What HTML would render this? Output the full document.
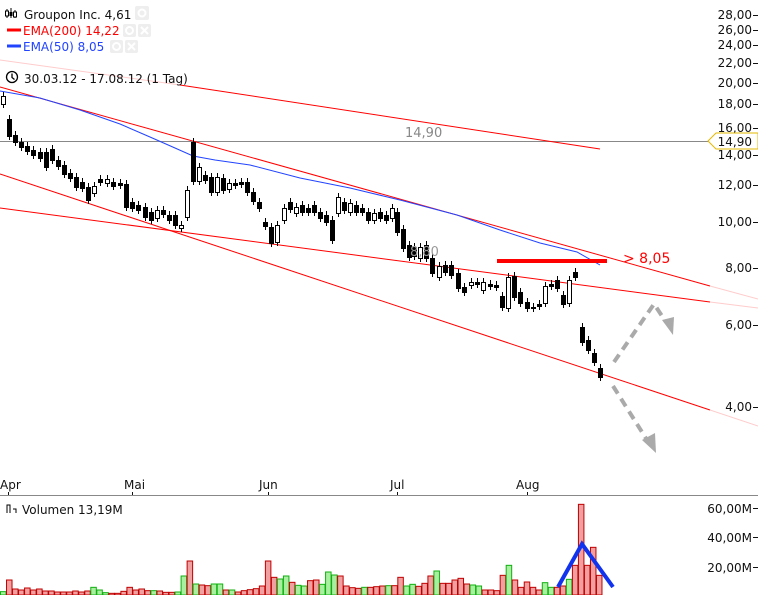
<!DOCTYPE html>
<html><head><meta charset="utf-8"><style>
html,body{margin:0;padding:0;background:#fff;}
svg{display:block;font-family:"DejaVu Sans","Liberation Sans",sans-serif;}
</style></head><body>
<svg id="s" width="758" height="595" viewBox="0 0 758 595" xmlns="http://www.w3.org/2000/svg">
<rect width="758" height="595" fill="#fff"/>
<!-- horizontal 14,90 -->
<line x1="0" y1="141.5" x2="712" y2="141.5" stroke="#888" stroke-width="1"/>
<text x="405" y="137" font-size="13" fill="#888">14,90</text>
<!-- EMA200 -->
<line x1="0" y1="60" x2="180" y2="85" stroke="#fcc" stroke-width="1"/>
<line x1="180" y1="85" x2="600" y2="149" stroke="#f00" stroke-width="1"/>
<!-- trend lines -->
<line x1="0" y1="87" x2="710" y2="286" stroke="#f00" stroke-width="1"/>
<line x1="710" y1="286" x2="758" y2="299" stroke="#fcc" stroke-width="1"/>
<line x1="0" y1="208" x2="710" y2="302" stroke="#f00" stroke-width="1"/>
<line x1="710" y1="302" x2="758" y2="308" stroke="#fcc" stroke-width="1"/>
<line x1="0" y1="174" x2="710" y2="410" stroke="#f00" stroke-width="1"/>
<line x1="710" y1="410" x2="758" y2="426" stroke="#fcc" stroke-width="1"/>
<!-- EMA50 -->
<polyline points="0,91 40,98 80,110 120,124 150,137 175,148 193,156 215,160 250,165 300,178 350,188 400,200 457,215 500,230 540,243 577,252 600,265" fill="none" stroke="#2244ff" stroke-width="1"/>
<g id="candles"></g>
<!-- red resistance -->
<line x1="497" y1="261" x2="607" y2="261" stroke="#f00" stroke-width="4"/>
<text x="623" y="263" font-size="14" fill="#f00">&gt; 8,05</text>
<text x="410" y="256" font-size="13" fill="#999">8,80</text>
<!-- arrows -->
<g stroke="#aaa" stroke-width="4" fill="none" stroke-dasharray="9,6">
<polyline points="614,362 654,304 666,322"/>
<polyline points="613,386 647,440"/>
</g>
<polygon points="662,320 674,317 673,335" fill="#aaa"/>
<polygon points="642,440 655,433 656,453" fill="#aaa"/>
<!-- right axis -->
<g font-size="12" fill="#111" text-anchor="end" id="ax"></g>
<polygon points="708,141 716,133 758,133 758,149 716,149" fill="#fff" stroke="#e6b800" stroke-width="1"/>
<text x="752" y="146" font-size="12" fill="#111" text-anchor="end">14,90</text>
<!-- legend -->
<g font-size="12">
<g stroke="#000" stroke-width="1"><line x1="7" y1="9" x2="7" y2="18"/><line x1="11" y1="8" x2="11" y2="18"/><line x1="15" y1="10" x2="15" y2="18"/></g>
<rect x="5.5" y="11" width="3" height="5" fill="#fff" stroke="#000"/>
<rect x="9.5" y="12" width="3" height="4" fill="#000"/>
<rect x="13.5" y="12" width="3" height="5" fill="#fff" stroke="#000"/>
<text x="24" y="19" fill="#111" font-size="12">Groupon Inc. 4,61</text>
<rect x="135" y="6" width="14" height="14" rx="2" fill="#eee"/><circle cx="142" cy="13" r="3.5" fill="none" stroke="#fff" stroke-width="2"/>
<line x1="7" y1="30" x2="21" y2="30" stroke="#f00" stroke-width="3"/>
<text x="23" y="35" fill="#f00">EMA(200) 14,22</text>
<rect x="123" y="24" width="13" height="13" rx="2" fill="#eee"/><circle cx="129.5" cy="30.5" r="3.5" fill="none" stroke="#fff" stroke-width="2"/>
<rect x="138" y="24" width="13" height="13" rx="2" fill="#eee"/><path d="M141 27l7 7M148 27l-7 7" stroke="#fff" stroke-width="2"/>
<line x1="7" y1="46" x2="21" y2="46" stroke="#2244ff" stroke-width="3"/>
<text x="23" y="51" fill="#2244ff">EMA(50) 8,05</text>
<rect x="110" y="40" width="13" height="13" rx="2" fill="#eee"/><circle cx="116.5" cy="46.5" r="3.5" fill="none" stroke="#fff" stroke-width="2"/>
<rect x="125" y="40" width="13" height="13" rx="2" fill="#eee"/><path d="M128 43l7 7M135 43l-7 7" stroke="#fff" stroke-width="2"/>
<circle cx="12" cy="77" r="5.5" fill="none" stroke="#000" stroke-width="1.3"/><path d="M12 73.5v4l2.5 2" fill="none" stroke="#000" stroke-width="1.3"/>
<text x="24" y="83" fill="#111">30.03.12 - 17.08.12 (1 Tag)</text>
</g>
<!-- x axis -->
<line x1="0" y1="495.5" x2="758" y2="495.5" stroke="#888" stroke-width="1"/>
<g font-size="12" fill="#111">
<text x="0" y="489">Apr</text><text x="124" y="489">Mai</text><text x="259" y="489">Jun</text><text x="390" y="489">Jul</text><text x="516" y="489">Aug</text>
</g>
<g stroke="#111"><line x1="8.5" y1="492" x2="8.5" y2="495"/><line x1="132.5" y1="492" x2="132.5" y2="495"/><line x1="268.5" y1="492" x2="268.5" y2="495"/><line x1="397.5" y1="492" x2="397.5" y2="495"/><line x1="527.5" y1="492" x2="527.5" y2="495"/></g>
<!-- volume -->
<g stroke="#000" stroke-width="1" fill="none"><path d="M7 513v-8h3v8M10 505v8M13 509h3v4"/></g>
<text x="22" y="514" font-size="12" fill="#111">Volumen 13,19M</text>
<g font-size="12" fill="#111" text-anchor="end">
<text x="752" y="513">60,00M</text><text x="752" y="542">40,00M</text><text x="752" y="572">20,00M</text>
</g>
<g stroke="#111"><line x1="753" y1="508.5" x2="758" y2="508.5"/><line x1="753" y1="537.5" x2="758" y2="537.5"/><line x1="753" y1="567.5" x2="758" y2="567.5"/></g>
<g id="vol"></g>
<polyline points="558,587 582,544 613,587" fill="none" stroke="#1133ee" stroke-width="4"/>
</svg>
<script>
var NS="http://www.w3.org/2000/svg";
function el(p,n,a){var e=document.createElementNS(NS,n);for(var k in a)e.setAttribute(k,a[k]);p.appendChild(e);return e;}
var c=[[3,96,104,1],[9,119,136,0],[15,135,142,0],[21,142,147,0],[27,146,151,0],[33,150,155,0],[40,152,158,0],[46,152,167,0],[52,149,160,0],[58,160,166,0],[64,165,174,0],[70,173,178,0],[76,177,187,0],[82,182,188,0],[88,187,200,0],[94,186,193,1],[100,179,182,0],[107,179,183,1],[113,182,186,0],[120,183,185,0],[126,184,207,0],[132,202,208,0],[138,205,210,0],[145,207,217,0],[151,212,220,0],[157,210,218,1],[163,210,214,0],[169,215,220,0],[175,215,225,0],[181,225,228,1],[187,190,217,1],[193,142,181,0],[199,167,181,1],[205,175,180,0],[211,177,192,0],[217,177,192,1],[223,178,190,0],[229,183,189,1],[235,183,185,0],[241,182,184,0],[247,182,192,0],[253,192,201,0],[259,202,208,0],[265,222,226,0],[271,227,243,0],[277,225,242,1],[284,208,220,1],[290,202,209,0],[296,207,213,1],[302,205,212,0],[308,208,212,0],[314,205,212,0],[320,212,218,0],[326,215,222,0],[332,220,240,0],[338,197,213,1],[344,202,210,0],[350,203,212,1],[356,205,212,0],[362,208,212,0],[368,212,220,0],[374,213,220,1],[380,212,218,0],[386,215,220,0],[392,208,218,1],[397,212,232,0],[403,229,248,0],[409,245,257,0],[414,247,256,0],[420,247,258,1],[426,245,258,0],[432,258,273,0],[439,266,277,1],[445,265,272,0],[451,265,275,0],[458,273,288,0],[464,287,292,0],[471,282,285,1],[477,282,284,0],[483,282,290,1],[490,284,286,0],[496,285,287,0],[502,296,307,0],[508,277,308,1],[514,276,297,0],[520,292,303,0],[527,302,308,0],[533,307,308,0],[539,304,306,0],[545,286,303,1],[551,284,286,0],[557,280,288,0],[563,295,304,0],[569,280,303,1],[575,272,277,0],[582,327,342,0],[588,340,350,0],[594,353,362,0],[600,368,377,0]];
var g=document.getElementById("candles");
c.forEach(function(d){var x=d[0]+0.5;
el(g,"line",{x1:x,y1:d[1]-4,x2:x,y2:d[2]+4,stroke:"#000","stroke-width":1});
el(g,"rect",{x:d[0]-1.5,y:d[1]+0.5,width:4,height:Math.max(1,d[2]-d[1]),fill:d[3]?"#fff":"#000",stroke:"#000","stroke-width":1});});
var ax=document.getElementById("ax");
[[28,15],[26,30],[24,45],[22,63],[20,83],[18,104],[16,128],[14,155],[12,185],[10,222],[8,268],[6,325],[4,407]].forEach(function(t){
var tx=el(ax,"text",{x:752,y:t[1]+4});tx.textContent=t[0]+",00";
el(ax,"line",{x1:753,y1:t[1]+0.5,x2:758,y2:t[1]+0.5,stroke:"#111"});});
var v="g365 r330 r357 r360 r354 r360 r357 r363 r363 r366 r366 r366 r363 r366 r363 g352 g360 g368 r370 r370 r364 r352 r360 r357 r362 g362 r363 r367 r367 g366 g318 r273 g342 r345 r347 g342 g342 r360 g360 r366 r362 r359 r356 r348 r273 r322 g327 g318 r337 g346 g348 r332 r330 g343 g306 g315 r318 r348 r353 r355 g352 r352 r350 r348 g347 r347 r322 g348 g343 r349 r340 r318 g303 r340 r340 r330 r325 r342 g345 g348 r360 r360 r362 r316 g286 r330 r352 r336 r352 r360 g338 g352 r352 r348 g328 r286 r103 r286 r232 r316".split(" ");
var vg=document.getElementById("vol");
v.forEach(function(s,i){var top=470+parseInt(s.slice(1))/3;var x=i*6.02+0.5;var r=s[0]=="r";
el(vg,"rect",{x:x,y:top,width:5.5,height:595-top,fill:r?"#f0a0a0":"#a8f0a0",stroke:r?"#c00000":"#10b010","stroke-width":1});});
</script>
</body></html>
